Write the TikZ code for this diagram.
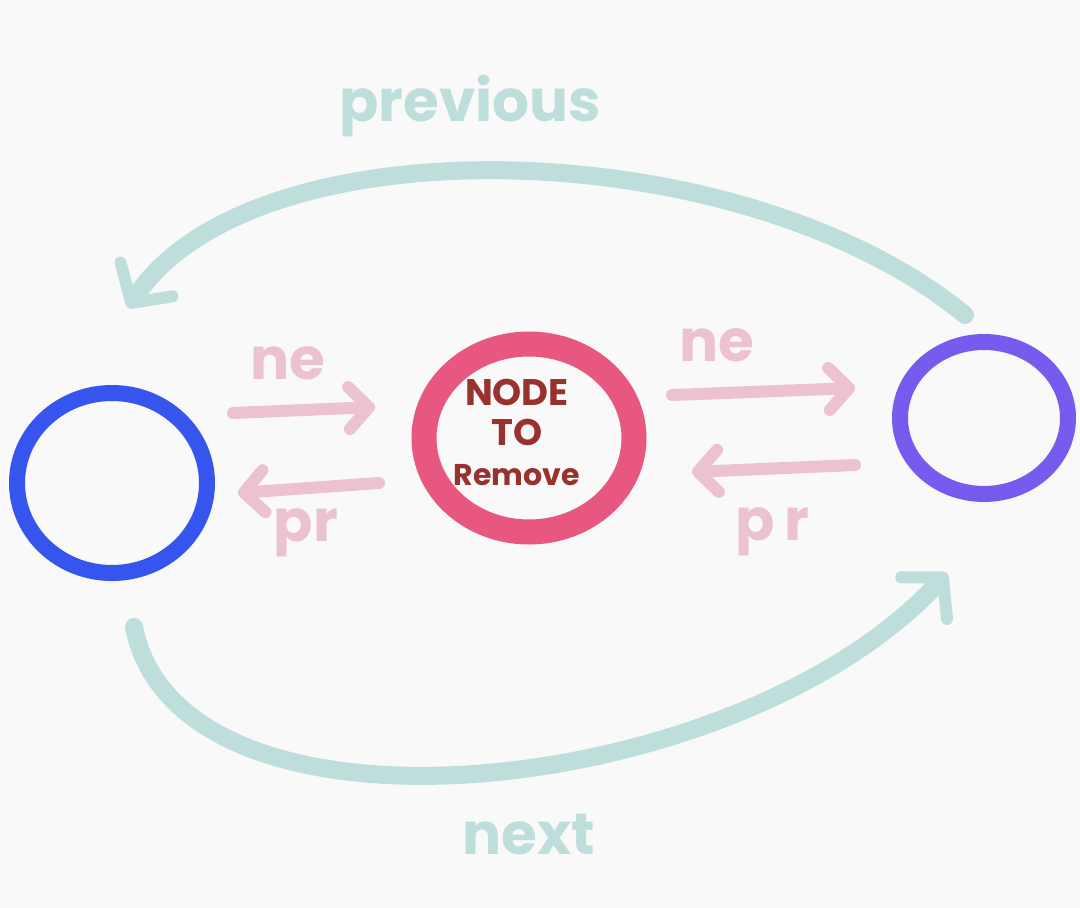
\documentclass[tikz,border=0pt]{standalone}
\usepackage{fontspec}
\setmainfont{Poppins}
\usetikzlibrary{shapes.geometric,arrows.meta}

\definecolor{bgcol}{HTML}{F9F9F9}
\definecolor{headblue}{HTML}{3655EE}
\definecolor{victimpink}{HTML}{E8577F}
\definecolor{tailpurple}{HTML}{775BEE}
\definecolor{ptrpink}{HTML}{ECC2CE}
\definecolor{linkteal}{HTML}{BEDEDC}
\definecolor{inkred}{HTML}{97322F}

\tikzset{
  ring/.style={ellipse, draw=#1, line width=16pt, inner sep=0pt, outer sep=0pt},
  ptr/.style={ptrpink, line width=12pt, line cap=round,
    -{Straight Barb[length=20pt,width=42pt,line width=12pt,round]}},
  link/.style={linkteal, line width=18pt, line cap=round,
    -{Straight Barb[length=28pt,width=62pt,line width=12pt,round]}},
  scrawl/.style={font=\fontsize{58}{60}\selectfont\bfseries, inner sep=0pt},
}

\begin{document}
\begin{tikzpicture}[x=1pt,y=-1pt]
  \useasboundingbox[fill=bgcol] (0,0) rectangle (1080,908);

  % the three list nodes
  \node[ring=headblue, minimum width=190pt, minimum height=180pt] (prevnode) at (112,483) {};
  \node[ring=victimpink, line width=25pt, minimum width=210pt, minimum height=188pt] (victim) at (529,438) {};
  \node[ring=tailpurple, minimum width=168pt, minimum height=152pt] (nextnode) at (984,418) {};
  \node[text=inkred, align=center, font=\fontsize{37}{40}\selectfont\bfseries] (victimtxt) at (517,432)
    {NODE\\TO\\{\fontsize{30}{40}\selectfont Remove}};

  % ne / pr pointers, left
  \draw[ptr] ([shift={(26,-70)}]prevnode.east) -- ([shift={(-49,-31)}]victim.west);
  \draw[ptr] ([shift={(-45,45)}]victim.west) -- ([shift={(31,10)}]prevnode.east);
  \node[scrawl, ptrpink] (nelft) at (288,363) {ne};
  \node[scrawl, ptrpink] (prlft) at (306,533) {pr};

  % ne / pr pointers, right
  \draw[ptr] ([shift={(38,-43)}]victim.east) -- ([shift={(-45,-30)}]nextnode.west);
  \draw[ptr] ([shift={(-45,47)}]nextnode.west) -- ([shift={(58,34)}]victim.east);
  \node[scrawl, ptrpink] (nergt) at (717,345) {ne};
  \node[scrawl, ptrpink] (prrgt) at (772,532) {p\,r};

  % previous link
  \draw[link] ([shift={(-19,-27)}]nextnode.north) .. controls (740,130) and (250,120) .. ([shift={(16,-85)}]prevnode.north);
  \node[scrawl, linkteal] (prevlbl) at (470,106) {previous};

  % next link
  \draw[link] ([shift={(22,54)}]prevnode.south) .. controls (180,860) and (740,800) .. ([shift={(-37,79)}]nextnode.south);
  \node[scrawl, linkteal] (nextlbl) at (529,835) {next};
\end{tikzpicture}
\end{document}
